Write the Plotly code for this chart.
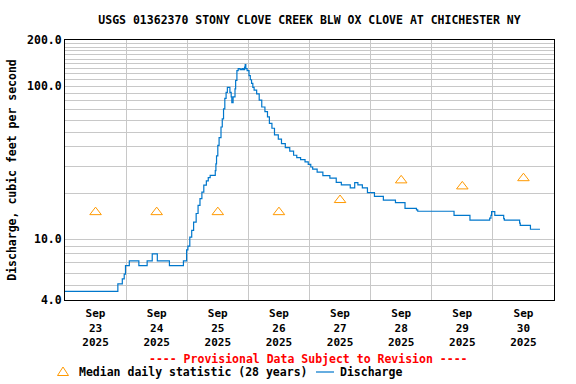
import math
import plotly.graph_objects as go

title_text = "USGS 01362370 STONY CLOVE CREEK BLW OX CLOVE AT CHICHESTER NY"
y_title = "Discharge, cubic feet per second"
provisional_note = "---- Provisional Data Subject to Revision ----"
median_name = "Median daily statistic (28 years)"
discharge_name = "Discharge"

discharge_times = [
    "2025-09-23 00:00", "2025-09-23 20:45", "2025-09-23 22:30", "2025-09-23 23:15", "2025-09-23 23:45",
    "2025-09-24 01:15", "2025-09-24 05:00", "2025-09-24 08:15", "2025-09-24 10:15", "2025-09-24 12:15",
    "2025-09-24 17:00", "2025-09-24 22:30", "2025-09-24 23:45",
    "2025-09-25 00:15", "2025-09-25 01:00", "2025-09-25 01:45", "2025-09-25 02:30", "2025-09-25 03:30",
    "2025-09-25 04:15", "2025-09-25 05:00", "2025-09-25 05:45", "2025-09-25 06:30", "2025-09-25 07:30",
    "2025-09-25 08:15", "2025-09-25 09:00", "2025-09-25 11:00", "2025-09-25 11:15", "2025-09-25 11:30",
    "2025-09-25 12:00", "2025-09-25 12:30", "2025-09-25 13:15", "2025-09-25 13:45", "2025-09-25 14:15",
    "2025-09-25 14:45", "2025-09-25 15:15", "2025-09-25 15:45", "2025-09-25 16:45", "2025-09-25 17:15",
    "2025-09-25 17:30", "2025-09-25 18:00", "2025-09-25 18:45", "2025-09-25 19:00", "2025-09-25 19:30",
    "2025-09-25 20:00", "2025-09-25 20:45", "2025-09-25 21:30", "2025-09-25 22:00", "2025-09-25 22:30",
    "2025-09-25 22:45", "2025-09-25 23:00", "2025-09-25 23:30",
    "2025-09-26 00:15", "2025-09-26 00:45", "2025-09-26 01:15", "2025-09-26 01:45", "2025-09-26 02:15",
    "2025-09-26 03:15", "2025-09-26 04:15", "2025-09-26 05:15", "2025-09-26 06:30", "2025-09-26 07:30",
    "2025-09-26 08:15", "2025-09-26 09:15", "2025-09-26 10:15", "2025-09-26 11:45", "2025-09-26 13:00",
    "2025-09-26 14:30", "2025-09-26 16:15", "2025-09-26 17:45", "2025-09-26 19:00", "2025-09-26 20:30",
    "2025-09-26 22:15", "2025-09-26 23:30",
    "2025-09-27 00:30", "2025-09-27 01:15", "2025-09-27 03:00", "2025-09-27 05:15", "2025-09-27 08:00",
    "2025-09-27 10:30", "2025-09-27 12:30", "2025-09-27 16:00", "2025-09-27 17:45", "2025-09-27 19:00",
    "2025-09-27 20:45", "2025-09-27 22:45",
    "2025-09-28 01:30", "2025-09-28 05:00", "2025-09-28 09:45", "2025-09-28 13:30", "2025-09-28 18:00",
    "2025-09-28 18:30",
    "2025-09-29 08:45", "2025-09-29 15:00", "2025-09-29 22:45", "2025-09-29 23:15", "2025-09-29 23:30",
    "2025-09-30 00:45", "2025-09-30 04:15", "2025-09-30 04:30", "2025-09-30 10:30", "2025-09-30 10:45",
    "2025-09-30 14:45", "2025-09-30 18:30",
]
discharge_cfs = [
    4.56, 5.1, 5.5, 5.9, 6.7,
    7.2, 6.7, 7.2, 8.0, 7.2,
    6.7, 7.2, 8.5,
    9.0, 10.3, 11.4, 12.9, 14.7,
    16.6, 18.4, 20.3, 22.5, 24.0,
    25.2, 26.1, 28.0, 31, 35,
    41, 46, 54, 61, 71,
    83, 91, 98, 91, 85,
    78, 85, 96, 109, 126,
    130, 128, 130, 128, 133,
    138, 130, 126,
    117, 110, 104, 98, 94,
    89, 81, 73, 68, 63,
    57, 53, 48, 45, 42,
    39.6, 37.6, 35.3, 34.1, 33.1,
    32.0, 30.8,
    29.6, 28.7, 27.4, 26.0, 25.0,
    23.5, 22.6, 21.6, 23.4, 22.6,
    21.6, 20.1,
    19.0, 18.0, 17.3, 15.9, 15.5,
    15.2,
    14.3, 13.3, 13.7, 14.3, 15.1,
    14.3, 13.6, 13.3, 12.7, 12.3,
    11.6, 11.6,
]

median_dates = ["2025-09-23 12:00", "2025-09-24 12:00", "2025-09-25 12:00", "2025-09-26 12:00",
                "2025-09-27 12:00", "2025-09-28 12:00", "2025-09-29 12:00", "2025-09-30 12:00"]
median_cfs = [15, 15, 15, 15, 18, 24.2, 22.1, 25.0]

y_tick_values = [4, 5, 6, 7, 8, 9, 10, 20, 30, 40, 50, 60, 70, 80, 90, 100,
                 110, 120, 130, 140, 150, 160, 170, 180, 190, 200]
y_tick_labels = ["4.0", "", "", "", "", "", "10.0", "", "", "", "", "", "", "", "", "100.0",
                 "", "", "", "", "", "", "", "", "", "200.0"]

FONT = "DejaVu Sans Mono"
LINE_COLOR = "#0077cc"
MED_COLOR = "#ff9900"
GRID = "#c8c8c8"

fig = go.Figure()
fig.add_trace(go.Scatter(
    x=discharge_times, y=discharge_cfs, mode="lines", name=discharge_name,
    line=dict(color=LINE_COLOR, width=1.2, shape="hv"), showlegend=False,
))
fig.add_trace(go.Scatter(
    x=median_dates, y=median_cfs, mode="markers", name=median_name,
    marker=dict(symbol="triangle-up-open", size=10, color=MED_COLOR, line=dict(width=1, color=MED_COLOR)),
    showlegend=False,
))

L, R, T, B = 65, 22, 40, 84
W, H = 576, 384
pw, ph = W - L - R, H - T - B


def px_x(x):
    return (x - L) / pw


def px_y(y):
    return (H - B - y) / ph


fig.update_layout(
    width=W, height=H,
    margin=dict(l=L, r=R, t=T, b=B, autoexpand=False),
    paper_bgcolor="white", plot_bgcolor="white",
    font=dict(family=FONT, size=11.5, color="black", weight="bold"),
    title=dict(text=title_text, x=0.5, xref="paper", xanchor="center",
               y=1 - 20 / H, yref="container", yanchor="middle",
               font=dict(family=FONT, size=11.5, color="black", weight="bold")),
    showlegend=False,
    xaxis=dict(
        type="date", range=["2025-09-23 00:00", "2025-10-01 00:00"],
        tick0="2025-09-23", dtick=86400000, ticklabelmode="period",
        tickformat="%b<br>%d<br>%Y", ticks="", showgrid=True, gridcolor=GRID, gridwidth=1,
        showline=True, linecolor="black", linewidth=1, mirror=True, zeroline=False,
        ticklabelstandoff=3,
        tickfont=dict(family=FONT, size=11, color="black", weight="bold"),
    ),
    yaxis=dict(
        type="log", range=[math.log10(4), math.log10(200)],
        tickmode="array", tickvals=y_tick_values, ticktext=y_tick_labels,
        ticks="", showgrid=True, gridcolor=GRID, gridwidth=1,
        showline=True, linecolor="black", linewidth=1, mirror=True, zeroline=False,
        tickfont=dict(family=FONT, size=11.5, color="black", weight="bold"),
        title=dict(text=y_title, standoff=8, font=dict(family=FONT, size=11.5, color="black", weight="bold")),
    ),
)

ly = px_y(372)
fig.add_annotation(text=provisional_note, xref="paper", yref="paper", x=px_x(308), y=px_y(359),
                   xanchor="center", yanchor="middle", showarrow=False,
                   font=dict(family=FONT, size=11.5, color="#ff0000", weight="bold"))
fig.add_annotation(text=median_name, xref="paper", yref="paper", x=px_x(77), y=ly,
                   xanchor="left", yanchor="middle", showarrow=False,
                   font=dict(family=FONT, size=11.5, color="black", weight="bold"))
fig.add_annotation(text=discharge_name, xref="paper", yref="paper", x=px_x(338), y=ly,
                   xanchor="left", yanchor="middle", showarrow=False,
                   font=dict(family=FONT, size=11.5, color="black", weight="bold"))
fig.add_shape(type="line", xref="paper", yref="paper", x0=px_x(316), x1=px_x(334), y0=ly, y1=ly,
              line=dict(color=LINE_COLOR, width=1.2))
fig.add_shape(type="path", xref="paper", yref="paper", xsizemode="pixel", ysizemode="pixel",
              xanchor=px_x(63), yanchor=ly, path="M -5.5 -3.5 L 5.5 -3.5 L 0 5 Z",
              line=dict(color=MED_COLOR, width=1))

fig.write_html("out.html", config={"displayModeBar": False},
               post_script="document.body.style.margin='0';document.body.style.padding='0';")
